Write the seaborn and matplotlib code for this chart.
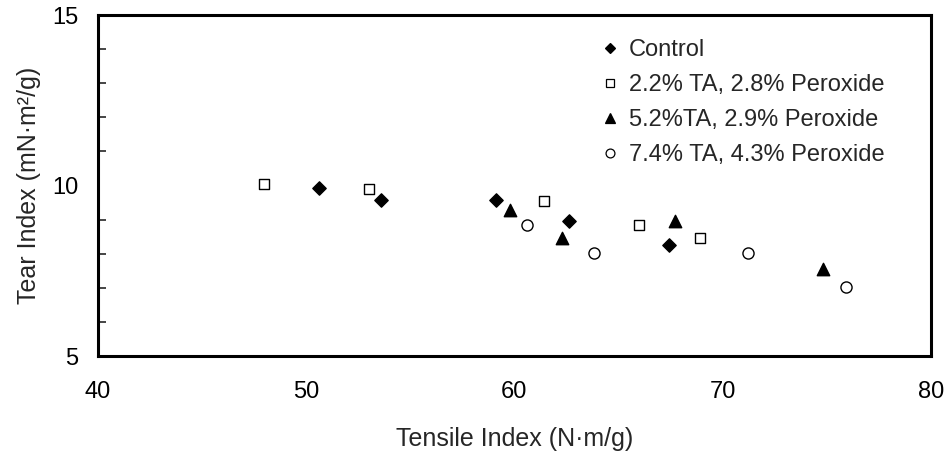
import matplotlib
matplotlib.use('Agg')
import matplotlib.pyplot as plt
from matplotlib.ticker import MultipleLocator
from matplotlib.lines import Line2D
import seaborn as sns
import pandas as pd

sns.set_style('white')
plt.rcParams['font.family'] = ['Liberation Sans', 'DejaVu Sans']

control_x = [50.6, 53.6, 59.1, 62.6, 67.4]
control_y = [9.92, 9.57, 9.57, 8.95, 8.26]
ta22_x = [48.0, 53.0, 61.4, 66.0, 68.9]
ta22_y = [10.04, 9.89, 9.55, 8.84, 8.45]
ta52_x = [59.8, 62.3, 67.7, 74.8]
ta52_y = [9.28, 8.45, 8.97, 7.54]
ta74_x = [60.6, 63.8, 71.2, 75.9]
ta74_y = [8.84, 8.03, 8.03, 7.03]

names = ['Control', '2.2% TA, 2.8% Peroxide', '5.2%TA, 2.9% Peroxide', '7.4% TA, 4.3% Peroxide']
xs = [control_x, ta22_x, ta52_x, ta74_x]
ys = [control_y, ta22_y, ta52_y, ta74_y]
marks = ['D', 's', '^', 'o']
fills = ['black', 'white', 'black', 'white']
sizes = [46, 58, 80, 64]

fig = plt.figure(figsize=(9.5, 4.57), dpi=100)
ax = fig.add_axes([0.103, 0.221, 0.877, 0.746])

for i in range(len(names)):
    d = pd.DataFrame({'x': xs[i], 'y': ys[i]})
    sns.scatterplot(data=d, x='x', y='y', marker=marks[i], s=sizes[i], color=fills[i],
                    edgecolor='black', linewidth=1.0, ax=ax, zorder=3)

ax.set_xlim(40, 80)
ax.set_ylim(5, 15)
ax.set_xticks([40, 50, 60, 70, 80])
ax.set_yticks([5, 10, 15])
ax.yaxis.set_minor_locator(MultipleLocator(1))
ax.tick_params(axis='x', which='major', direction='in', length=5, width=1.5, pad=18, labelsize=17, colors='black')
ax.tick_params(axis='y', which='major', length=0, pad=14, labelsize=17, colors='black')
ax.tick_params(axis='y', which='minor', direction='in', length=6, width=1.2, left=True)
for sp in ax.spines.values():
    sp.set_linewidth(2.2)
    sp.set_color('black')

ax.set_xlabel('Tensile Index (N·m/g)', fontsize=18, labelpad=17)
ax.set_ylabel('Tear Index (mN·m²/g)', fontsize=18, labelpad=8)

handles = []
for i in range(len(names)):
    handles.append(Line2D([], [], linestyle='none', marker=marks[i], markersize=[6.5, 7, 8, 7.5][i] * 0.85,
                          markerfacecolor=fills[i], markeredgecolor='black', markeredgewidth=0.9))
ax.legend(handles, names, loc='upper left', bbox_to_anchor=(0.595, 0.957), frameon=False,
          fontsize=17, handlelength=0.6, handletextpad=0.5, labelspacing=0.55, borderaxespad=0)

fig.savefig('out.png', dpi=100)
